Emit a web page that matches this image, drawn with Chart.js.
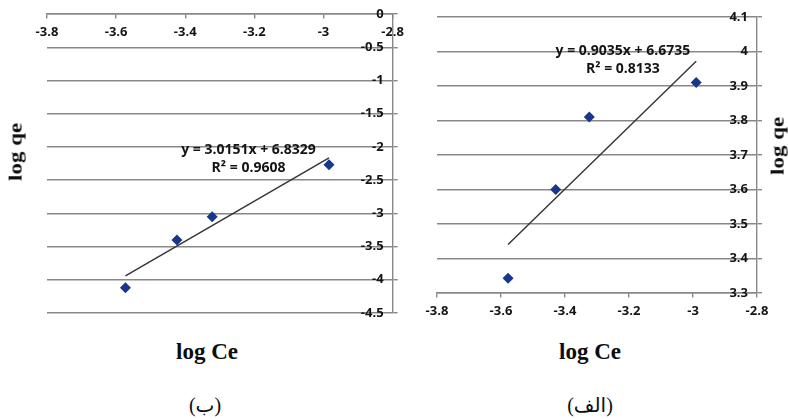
<!DOCTYPE html>
<html>
<head>
<meta charset="utf-8">
<script src="https://cdn.jsdelivr.net/npm/chart.js@4/dist/chart.umd.min.js"></script>
<style>
  html, body { margin: 0; padding: 0; background: #ffffff; }
  body { width: 788px; height: 419px; position: relative; overflow: hidden; }
  canvas { position: absolute; top: 0; }
  #cB { left: 0; }
  #cA { left: 400px; }
  .xtitle, .ytitle, .cap { position: absolute; white-space: nowrap; color: #0d0d0d; }
  .xtitle { font: bold 23px "Liberation Serif", serif; transform: translate(-50%, -50%); }
  .ytitle { font: bold 23px "Liberation Serif", serif; transform: translate(-50%, -50%) rotate(-90deg) scaleY(0.8); }
  .cap { font: 20px "Liberation Serif", "DejaVu Sans", serif; transform: translate(-50%, -50%); }
</style>
</head>
<body>
<canvas id="cB" width="410" height="330"></canvas>
<canvas id="cA" width="388" height="330"></canvas>

<div class="ytitle" style="left:16px; top:152px;">log qe</div>
<div class="xtitle" style="left:207px; top:352px;">log Ce</div>
<div class="cap" dir="rtl" style="left:205px; top:405px;">(ب)</div>

<div class="ytitle" style="left:778px; top:146px;">log qe</div>
<div class="xtitle" style="left:590px; top:352px;">log Ce</div>
<div class="cap" dir="rtl" style="left:590px; top:405px;">(الف)</div>

<script>
// ---- shared x ticks (log Ce) ----
const xTickValues = [-3.8, -3.6, -3.4, -3.2, -3.0, -2.8];

// ---- chart (ب) ----
const logCeB = [-3.573, -3.424, -3.322, -2.984];
const logQeB = [-4.12, -3.40, -3.05, -2.27];
const yTickValuesB = [0, -0.5, -1, -1.5, -2, -2.5, -3, -3.5, -4, -4.5];
const slopeB = 3.0151;
const interceptB = 6.8329;
const r2B = 0.9608;

// ---- chart (الف) ----
const logCeA = [-3.578, -3.429, -3.324, -2.990];
const logQeA = [3.343, 3.60, 3.81, 3.91];
const yTickValuesA = [3.3, 3.4, 3.5, 3.6, 3.7, 3.8, 3.9, 4.0, 4.1];
const slopeA = 0.9035;
const interceptA = 6.6735;
const r2A = 0.8133;

const GRID = '#888888';
const TEXT = '#141414';
const MARK = '#17378c';
const tickFont = { family: '"Open Sans", sans-serif', size: 13, weight: 'bold' };
const fmt = v => String(Math.round(v * 10) / 10);

const eqLabel = {
  id: 'eqLabel',
  afterDatasetsDraw(chart, args, opts) {
    const { ctx, scales } = chart;
    const px = scales.x.getPixelForValue(opts.x);
    const py = scales.y.getPixelForValue(opts.y);
    ctx.save();
    ctx.font = 'bold 14px "Open Sans"';
    ctx.fillStyle = TEXT;
    ctx.textAlign = 'center';
    ctx.textBaseline = 'middle';
    opts.lines.forEach((t, i) => ctx.fillText(t, px, py + i * 18));
    ctx.restore();
  }
};

function fmtSigned(v) { return (v < 0 ? '- ' : '+ ') + Math.abs(v).toFixed(4); }

function build(canvasId, xs, ys, slope, intercept, r2, yTicks, yMin, yMax, xAxisAtY, pad, eqAt) {
  const x0 = Math.min(...xs), x1 = Math.max(...xs);
  const trend = [x0, x1].map(x => ({ x, y: slope * x + intercept }));
  return new Chart(document.getElementById(canvasId), {
    type: 'scatter',
    data: {
      datasets: [
        {
          data: xs.map((x, i) => ({ x, y: ys[i] })),
          pointStyle: 'rectRot',
          pointRadius: 5.5,
          backgroundColor: MARK,
          borderColor: MARK,
          borderWidth: 0
        },
        {
          data: trend,
          showLine: true,
          borderColor: '#333333',
          borderWidth: 1.4,
          pointRadius: 0,
          fill: false
        }
      ]
    },
    options: {
      responsive: false,
      animation: false,
      layout: { padding: pad },
      plugins: {
        legend: { display: false },
        tooltip: { enabled: false },
        eqLabel: {
          x: eqAt.x, y: eqAt.y,
          lines: ['y = ' + slope.toFixed(4) + 'x ' + fmtSigned(intercept), 'R\u00B2 = ' + r2.toFixed(4)]
        }
      },
      scales: {
        x: {
          type: 'linear',
          min: -3.8, max: -2.8,
          position: { y: xAxisAtY },
          afterBuildTicks: s => { s.ticks = xTickValues.map(v => ({ value: v })); },
          grid: { drawOnChartArea: false, drawTicks: true, tickLength: 4, color: GRID, lineWidth: 1.4 },
          border: { display: true, color: GRID, width: 1.4 },
          ticks: { callback: fmt, font: tickFont, color: TEXT, padding: 6, maxRotation: 0 }
        },
        y: {
          type: 'linear',
          min: yMin, max: yMax,
          position: 'right',
          afterBuildTicks: s => { s.ticks = yTicks.map(v => ({ value: v })); },
          grid: { drawOnChartArea: true, drawTicks: true, tickLength: 5, color: GRID, lineWidth: 1.4 },
          border: { display: true, color: GRID, width: 1.4 },
          ticks: { callback: fmt, font: tickFont, color: TEXT, mirror: true, padding: -9 }
        }
      }
    },
    plugins: [eqLabel]
  });
}

build('cB', logCeB, logQeB, slopeB, interceptB, r2B, yTickValuesB, -4.5, 0, 0,
      { left: 47, right: 15, top: 14, bottom: 17 }, { x: -3.217, y: -2.05 });
build('cA', logCeA, logQeA, slopeA, interceptA, r2A, yTickValuesA, 3.3, 4.1, 3.3,
      { left: 37, right: 31, top: 17, bottom: 37 }, { x: -3.219, y: 4.0 });
</script>
</body>
</html>
